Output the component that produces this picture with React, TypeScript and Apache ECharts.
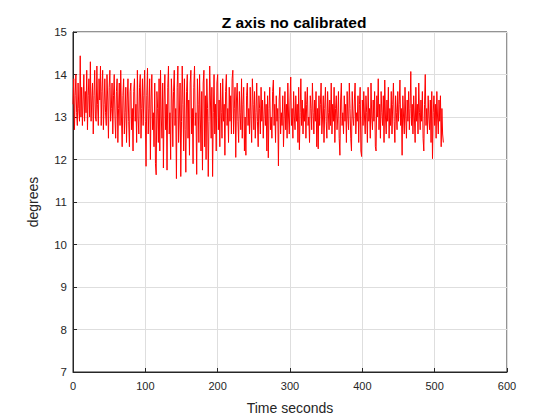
import React, { useEffect, useRef } from "react";
import * as echarts from "echarts";

// Sampling step of the recording, in seconds
const sampleStep = 1;

// Z-axis readings (degrees), one per second
const zValues: number[] = [
  // 0-19 s
  13.3, 13.9, 12.7, 13.5, 14.0, 13.1, 12.8, 13.8, 13.2, 12.9, 14.44, 13.0, 13.7, 12.8, 13.4, 14.0, 12.9, 13.6, 13.1, 14.1,
  // 20-39 s
  12.7, 13.5, 13.9, 13.0, 14.3, 12.9, 13.4, 13.8, 12.6, 13.5, 14.1, 13.0, 12.9, 14.2, 13.3, 12.8, 13.9, 13.4, 14.2, 12.8,
  // 40-59 s
  13.6, 14.1, 12.7, 13.3, 13.9, 13.1, 12.8, 14.0, 13.4, 12.5, 13.7, 14.1, 12.9, 13.2, 13.8, 12.6, 13.5, 14.0, 13.0, 12.5,
  // 60-79 s
  13.6, 13.9, 12.4, 13.2, 13.8, 12.8, 14.1, 13.0, 12.3, 13.5, 13.9, 12.6, 13.1, 13.7, 12.4, 13.4, 13.9, 12.9, 12.3, 13.6,
  // 80-99 s
  13.8, 12.7, 13.2, 12.2, 13.6, 13.9, 12.9, 13.3, 12.4, 14.1, 13.0, 12.6, 13.7, 14.0, 12.5, 13.2, 13.9, 12.8, 13.5, 14.1,
  // 100-119 s
  12.9, 11.84, 13.5, 14.15, 12.6, 13.2, 13.9, 12.0, 13.4, 14.0, 12.7, 13.1, 12.3, 13.8, 11.9, 11.64, 13.6, 13.2, 12.4, 13.9,
  // 120-139 s
  12.2, 14.1, 13.0, 12.5, 13.8, 11.8, 13.4, 14.0, 12.7, 13.3, 11.75, 13.7, 14.2, 12.6, 13.1, 12.0, 13.9, 13.4, 12.3, 13.6,
  // 140-159 s
  14.1, 12.8, 13.2, 11.55, 13.7, 14.2, 12.4, 13.0, 13.8, 11.6, 12.9, 14.2, 13.3, 12.2, 13.9, 12.7, 11.7, 13.6, 14.0, 12.5,
  // 160-179 s
  13.4, 12.1, 13.8, 14.1, 12.6, 13.2, 11.9, 13.7, 14.2, 12.8, 13.1, 11.65, 13.9, 13.3, 12.4, 14.0, 13.0, 12.2, 13.6, 11.75,
  // 180-199 s
  13.8, 14.1, 12.3, 13.5, 12.0, 13.9, 13.2, 11.6, 12.9, 14.2, 13.4, 12.5, 13.7, 11.6, 13.1, 14.0, 12.6, 13.3, 12.2, 13.8,
  // 200-219 s
  14.0, 12.7, 13.4, 12.3, 13.8, 13.1, 12.5, 13.9, 12.9, 13.3, 12.1, 13.6, 14.0, 12.8, 13.2, 12.4, 13.7, 12.9, 13.5, 12.6,
  // 220-239 s
  13.9, 14.1, 12.6, 13.2, 13.7, 12.05, 13.4, 13.8, 12.9, 12.4, 13.6, 13.1, 12.7, 13.9, 12.5, 13.3, 13.7, 12.2, 13.0, 12.1,
  // 240-259 s
  13.5, 13.8, 12.8, 13.2, 12.6, 13.7, 13.0, 12.4, 13.9, 13.3, 12.7, 13.6, 12.5, 13.1, 13.8, 12.9, 12.3, 13.5, 13.2, 12.6,
  // 260-279 s
  13.7, 12.9, 13.4, 12.5, 13.0, 13.6, 12.8, 13.3, 12.2, 13.5, 12.04, 13.2, 13.7, 12.7, 13.0, 12.5, 13.6, 13.87, 12.8, 13.3,
  // 280-299 s
  12.4, 13.5, 12.9, 13.2, 11.85, 13.4, 13.7, 12.6, 13.1, 12.8, 13.5, 12.3, 13.0, 13.6, 12.7, 13.3, 12.5, 13.8, 13.0, 12.6,
  // 300-319 s
  13.4, 13.94, 12.8, 13.2, 12.5, 13.6, 13.0, 12.7, 13.5, 12.9, 13.3, 12.4, 13.7, 12.23, 13.1, 13.9, 12.8, 13.4, 12.6, 13.2,
  // 320-339 s
  12.9, 13.6, 12.5, 13.3, 13.7, 12.8, 13.0, 12.4, 13.5, 13.2, 12.7, 13.8, 13.1, 12.6, 13.4, 12.9, 13.6, 12.3, 13.2, 12.25,
  // 340-359 s
  13.5, 12.8, 13.3, 13.8, 12.6, 13.0, 13.5, 12.4, 13.2, 13.7, 12.9, 12.5, 13.6, 13.1, 12.7, 13.4, 12.8, 13.8, 12.6, 13.3,
  // 360-379 s
  12.9, 13.7, 12.4, 13.2, 13.5, 12.7, 13.0, 13.6, 12.5, 12.1, 13.4, 13.8, 12.8, 13.1, 12.6, 13.5, 12.9, 13.3, 12.4, 13.6,
  // 380-399 s
  13.0, 12.7, 13.8, 13.2, 12.5, 12.2, 13.6, 13.0, 12.8, 13.4, 13.8, 12.6, 13.1, 12.9, 13.5, 12.4, 13.3, 13.7, 12.2, 12.07,
  // 400-419 s
  13.4, 12.8, 13.6, 13.0, 12.6, 13.5, 13.1, 12.4, 13.7, 12.9, 13.2, 12.5, 13.8, 13.0, 12.7, 13.4, 12.9, 13.6, 12.3, 12.2,
  // 420-439 s
  13.5, 13.0, 13.9, 12.7, 13.3, 12.5, 13.6, 13.1, 12.8, 13.5, 12.4, 13.87, 13.0, 12.6, 13.4, 12.9, 13.7, 12.5, 13.2, 12.8,
  // 440-459 s
  13.6, 12.6, 13.3, 13.8, 12.9, 12.4, 13.5, 13.1, 12.7, 13.6, 12.9, 13.3, 13.87, 12.8, 13.2, 12.1, 13.5, 13.0, 12.6, 13.7,
  // 460-479 s
  13.0, 12.5, 13.4, 12.9, 13.6, 12.7, 13.2, 14.07, 12.8, 13.3, 12.6, 13.5, 13.0, 12.4, 13.7, 12.9, 13.3, 12.6, 13.8, 13.1,
  // 480-499 s
  12.7, 13.4, 12.9, 13.6, 12.5, 12.2, 13.3, 14.0, 12.8, 13.2, 12.6, 13.5, 13.0, 12.7, 13.4, 12.4, 13.6, 12.02, 13.1, 13.5,
  // 500-512 s
  12.8, 13.3, 12.5, 13.6, 13.0, 12.6, 13.4, 12.9, 13.5, 12.3, 13.2, 12.6, 12.4,
];

const xTicks = { min: 0, max: 600, interval: 100 };
const yTicks = { min: 7, max: 15, interval: 1 };

const titleText = "Z axis no calibrated";
const xLabel = "Time seconds";
const yLabel = "degrees";

const FONT = "'Liberation Sans', Arial, Helvetica, sans-serif";
const AXIS_COLOR = "#262626";

export default function App() {
  const ref = useRef<HTMLDivElement>(null);

  useEffect(() => {
    if (!ref.current) return;
    const chart = echarts.init(ref.current, undefined, { renderer: "svg" });
    const seriesData = zValues.map((v, i) => [i * sampleStep, v]);

    chart.setOption({
      animation: false,
      backgroundColor: "#ffffff",
      title: {
        text: titleText,
        left: 289,
        textAlign: "center",
        top: 9,
        textStyle: {
          fontFamily: FONT,
          fontSize: 15.5,
          fontWeight: "bold",
          color: "#000000",
        },
      },
      grid: {
        left: 73,
        top: 32,
        right: 53,
        bottom: 47,
        show: true,
        borderColor: AXIS_COLOR,
        borderWidth: 1,
        backgroundColor: "transparent",
      },
      xAxis: {
        type: "value",
        min: xTicks.min,
        max: xTicks.max,
        interval: xTicks.interval,
        name: xLabel,
        nameLocation: "middle",
        nameGap: 29,
        nameTextStyle: { fontFamily: FONT, fontSize: 14, color: AXIS_COLOR },
        axisLine: { show: true, onZero: false, lineStyle: { color: AXIS_COLOR, width: 1 } },
        axisTick: { show: true, inside: true, length: 4, lineStyle: { color: AXIS_COLOR } },
        axisLabel: { fontFamily: FONT, fontSize: 11, color: AXIS_COLOR, margin: 8 },
        splitLine: { show: true, lineStyle: { color: "#dedede", width: 1 } },
      },
      yAxis: {
        type: "value",
        min: yTicks.min,
        max: yTicks.max,
        interval: yTicks.interval,
        name: yLabel,
        nameLocation: "middle",
        nameGap: 33,
        nameRotate: 90,
        nameTextStyle: { fontFamily: FONT, fontSize: 14, color: AXIS_COLOR },
        axisLine: { show: true, lineStyle: { color: AXIS_COLOR, width: 1 } },
        axisTick: { show: true, inside: true, length: 4, lineStyle: { color: AXIS_COLOR } },
        axisLabel: { fontFamily: FONT, fontSize: 11.5, color: AXIS_COLOR, margin: 6 },
        splitLine: { show: true, lineStyle: { color: "#dedede", width: 1 } },
      },
      series: [
        {
          type: "line",
          data: seriesData,
          showSymbol: false,
          symbol: "none",
          lineStyle: { color: "#ff0000", width: 1 },
          itemStyle: { color: "#ff0000" },
        },
      ],
    });

    return () => chart.dispose();
  }, []);

  return (
    <div
      ref={ref}
      style={{ width: 560, height: 420, position: "absolute", left: 0, top: 0 }}
    />
  );
}
